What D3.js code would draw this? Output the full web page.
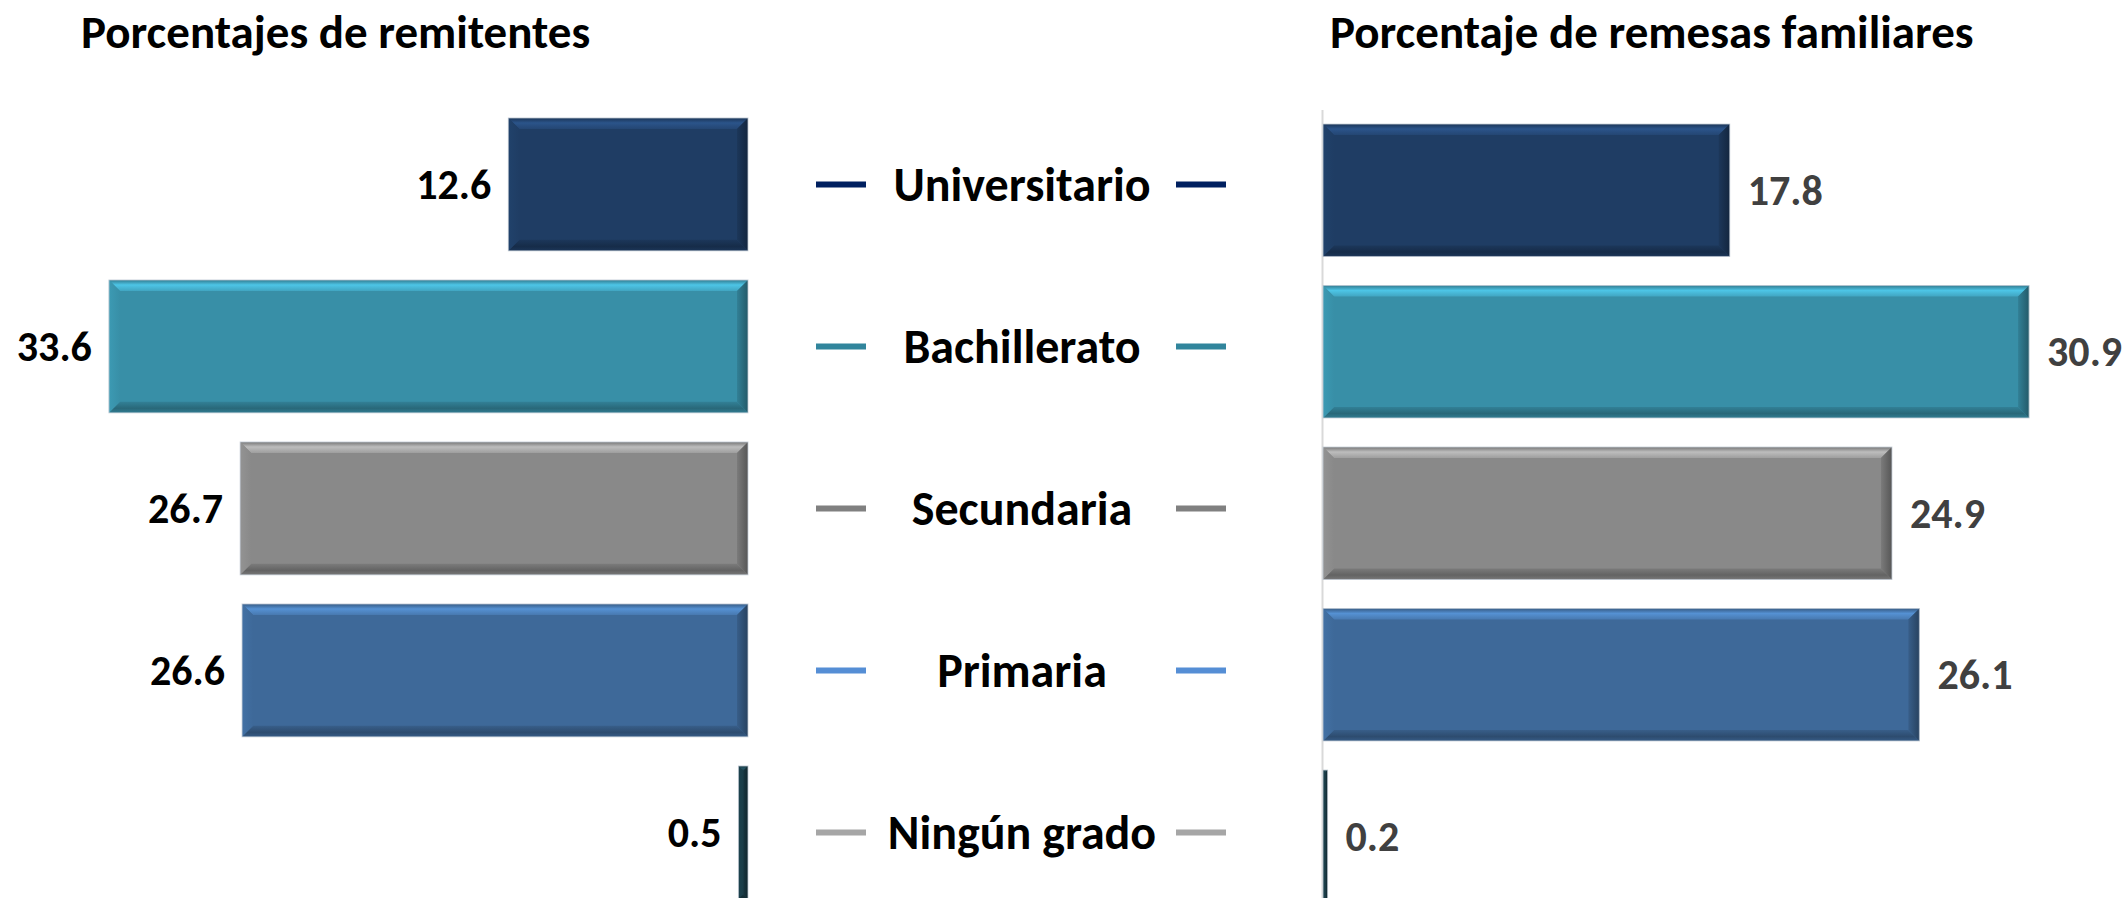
<!DOCTYPE html>
<html><head><meta charset="utf-8">
<script src="https://cdn.jsdelivr.net/npm/d3@7"></script>
<style>body{margin:0;background:#fff;} svg{display:block;}</style>
</head><body>
<svg id="c" width="2128" height="898"></svg>
<script>
const categories = ["Universitario","Bachillerato","Secundaria","Primaria","Ningún grado"];
const remitentes = [12.6, 33.6, 26.7, 26.6, 0.5];
const remesas = [17.8, 30.9, 24.9, 26.1, 0.2];
const titles = ["Porcentajes de remitentes", "Porcentaje de remesas familiares"];
const barColors = ["#1F3D64", "#388FA7", "#898989", "#3E6999", "#1B3D48"];
const dashColors = ["#002060", "#31859C", "#808080", "#558ED5", "#A6A6A6"];

const FONT = "Carlito, Calibri, Lato, 'Open Sans', sans-serif";
const svg = d3.select("#c");
const defs = svg.append("defs");

const xL = d3.scaleLinear().domain([0, 35]).range([748, 748 - 35 * 19.02]);
const xR = d3.scaleLinear().domain([0, 35]).range([1323, 1323 + 35 * 22.85]);
const yL = d3.scaleBand().domain(categories).range([103.4, 913.4]).paddingInner(0.18).paddingOuter(0.09);
const yR = d3.scaleBand().domain(categories).range([109.5, 917]).paddingInner(0.18).paddingOuter(0.09);

// gradients per colour
barColors.forEach((c, i) => {
  const base = d3.color(c);
  const light = base.brighter(0.9).formatHex();
  const lighter = base.brighter(0.4).formatHex();
  const dark = base.darker(0.9).formatHex();
  const mid = base.darker(0.4).formatHex();
  const gt = defs.append("linearGradient").attr("id", "gt" + i).attr("x1", 0).attr("y1", 0).attr("x2", 0).attr("y2", 1);
  gt.append("stop").attr("offset", "0%").attr("stop-color", mid);
  gt.append("stop").attr("offset", "45%").attr("stop-color", light);
  gt.append("stop").attr("offset", "100%").attr("stop-color", lighter);
  const gb = defs.append("linearGradient").attr("id", "gb" + i).attr("x1", 0).attr("y1", 0).attr("x2", 0).attr("y2", 1);
  gb.append("stop").attr("offset", "0%").attr("stop-color", base.darker(0.3).formatHex());
  gb.append("stop").attr("offset", "60%").attr("stop-color", dark);
  gb.append("stop").attr("offset", "100%").attr("stop-color", mid);
  const gr = defs.append("linearGradient").attr("id", "gr" + i).attr("x1", 0).attr("y1", 0).attr("x2", 1).attr("y2", 0);
  gr.append("stop").attr("offset", "0%").attr("stop-color", base.darker(0.3).formatHex());
  gr.append("stop").attr("offset", "100%").attr("stop-color", base.darker(1.3).formatHex());
  const gl = defs.append("linearGradient").attr("id", "gl" + i).attr("x1", 0).attr("y1", 0).attr("x2", 1).attr("y2", 0);
  gl.append("stop").attr("offset", "0%").attr("stop-color", base.brighter(0.2).formatHex());
  gl.append("stop").attr("offset", "100%").attr("stop-color", c);
});

function bevelBar(g, x0, x1, y0, y1, i) {
  const w = x1 - x0, h = y1 - y0;
  const b = Math.min(11, w / 2, h / 2);
  const grp = g.append("g");
  grp.append("rect").attr("x", x0).attr("y", y0).attr("width", w).attr("height", h)
    .attr("fill", barColors[i]);
  grp.append("polygon").attr("points", [[x0, y0], [x1, y0], [x1 - b, y0 + b], [x0 + b, y0 + b]].join(" "))
    .attr("fill", `url(#gt${i})`);
  grp.append("polygon").attr("points", [[x0, y1], [x1, y1], [x1 - b, y1 - b], [x0 + b, y1 - b]].join(" "))
    .attr("fill", `url(#gb${i})`);
  grp.append("polygon").attr("points", [[x1, y0], [x1, y1], [x1 - b, y1 - b], [x1 - b, y0 + b]].join(" "))
    .attr("fill", `url(#gr${i})`);
  grp.append("polygon").attr("points", [[x0, y0], [x0, y1], [x0 + b, y1 - b], [x0 + b, y0 + b]].join(" "))
    .attr("fill", `url(#gl${i})`);
  grp.append("rect").attr("x", x0).attr("y", y0).attr("width", w).attr("height", h)
    .attr("fill", "none").attr("stroke", "#c3ccd6").attr("stroke-width", 1).attr("stroke-opacity", 0.8);
}

// right axis line
const axR = svg.append("g").attr("transform", "translate(1322,0)")
  .call(d3.axisLeft(yR).tickSize(0).tickFormat(""));
axR.select(".domain").attr("stroke", "#d9d9d9").attr("stroke-width", 2);

// left bars
const gL = svg.append("g");
categories.forEach((c, i) => {
  bevelBar(gL, xL(remitentes[i]), xL(0), yL(c), yL(c) + yL.bandwidth(), i);
});
gL.selectAll("text.val").data(categories).join("text")
  .attr("class", "val")
  .attr("x", (c, i) => xL(remitentes[i]) - 17)
  .attr("y", c => yL(c) + yL.bandwidth() / 2)
  .attr("dy", "0.35em")
  .attr("text-anchor", "end")
  .attr("font-family", FONT).attr("font-weight", 700).attr("font-size", 42)
  .attr("fill", "#000")
  .text((c, i) => remitentes[i].toFixed(1));

// right bars
const gR = svg.append("g");
categories.forEach((c, i) => {
  bevelBar(gR, xR(0), xR(remesas[i]), yR(c), yR(c) + yR.bandwidth(), i);
});
gR.selectAll("text.val").data(categories).join("text")
  .attr("class", "val")
  .attr("x", (c, i) => xR(remesas[i]) + 18)
  .attr("y", c => yR(c) + yR.bandwidth() / 2)
  .attr("dy", "0.35em")
  .attr("text-anchor", "start")
  .attr("font-family", FONT).attr("font-weight", 700).attr("font-size", 42)
  .attr("fill", "#404040")
  .text((c, i) => remesas[i].toFixed(1));

// centre labels with dashes
const cx = 1022;
const gC = svg.append("g");
categories.forEach((c, i) => {
  const y = yL(c) + yL.bandwidth() / 2;
  gC.append("line").attr("x1", cx - 206).attr("x2", cx - 156).attr("y1", y).attr("y2", y)
    .attr("stroke", dashColors[i]).attr("stroke-width", 6);
  gC.append("line").attr("x1", cx + 154).attr("x2", cx + 204).attr("y1", y).attr("y2", y)
    .attr("stroke", dashColors[i]).attr("stroke-width", 6);
  gC.append("text").attr("x", cx).attr("y", y).attr("dy", "0.35em")
    .attr("text-anchor", "middle")
    .attr("font-family", FONT).attr("font-weight", 700).attr("font-size", 48)
    .attr("fill", "#000").text(c);
});

// titles
svg.append("text").attr("x", 81).attr("y", 48).attr("font-family", FONT).attr("font-weight", 700)
  .attr("font-size", 47).attr("fill", "#000").text(titles[0]);
svg.append("text").attr("x", 1330).attr("y", 48).attr("font-family", FONT).attr("font-weight", 700)
  .attr("font-size", 47).attr("fill", "#000").text(titles[1]);
</script>
</body></html>
